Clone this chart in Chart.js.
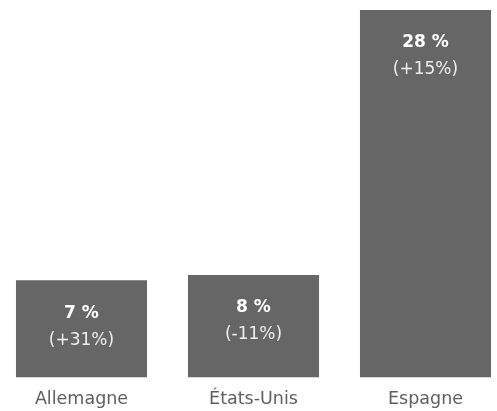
<!DOCTYPE html>
<html>
<head>
<meta charset="utf-8">
<script src="https://cdn.jsdelivr.net/npm/chart.js@4"></script>
<style>
  html, body { margin: 0; padding: 0; background: #fff; }
  #wrap { width: 497px; height: 411px; }
</style>
</head>
<body>
<div id="wrap"><canvas id="chart"></canvas></div>
<script>
'use strict';

const COUNTRIES = ['Allemagne', 'États-Unis', 'Espagne'];
const SHARES = [7.4, 7.8, 28];
const CHANGES = ['(+31%)', '(-11%)', '(+15%)'];

const BAR_COLOR = '#666666';

const valueLabels = {
  id: 'valueLabels',
  afterDatasetsDraw(chart) {
    const ctx = chart.ctx;
    const meta = chart.getDatasetMeta(0);
    ctx.save();
    ctx.textAlign = 'center';
    ctx.textBaseline = 'middle';
    meta.data.forEach((bar, i) => {
      ctx.fillStyle = '#ffffff';
      ctx.font = 'bold 17px "DejaVu Sans"';
      ctx.fillText(Math.round(SHARES[i]) + ' %', bar.x, bar.y + 33);
      ctx.fillStyle = '#eeeeee';
      ctx.font = '17px "DejaVu Sans"';
      ctx.fillText(CHANGES[i], bar.x, bar.y + 60);
    });
    ctx.restore();
  }
};

Chart.defaults.font.family = '"DejaVu Sans"';

new Chart(document.getElementById('chart'), {
  type: 'bar',
  data: {
    labels: COUNTRIES,
    datasets: [{
      data: SHARES,
      backgroundColor: BAR_COLOR,
      categoryPercentage: 1,
      barPercentage: 0.762,
      clip: false,
    }],
  },
  options: {
    responsive: true,
    maintainAspectRatio: false,
    animation: false,
    layout: { padding: { left: 81.5, right: 71.5, top: 10, bottom: -10 } },
    plugins: { legend: { display: false }, tooltip: { enabled: false } },
    scales: {
      x: {
        offset: false,
        grid: { display: false, drawTicks: false },
        border: { display: false },
        ticks: { color: '#5f5f5f', padding: 17.5, font: { size: 17.5, lineHeight: 0.5 } },
      },
      y: { display: false, min: 0, max: 28 },
    },
  },
  plugins: [valueLabels],
});
</script>
</body>
</html>
